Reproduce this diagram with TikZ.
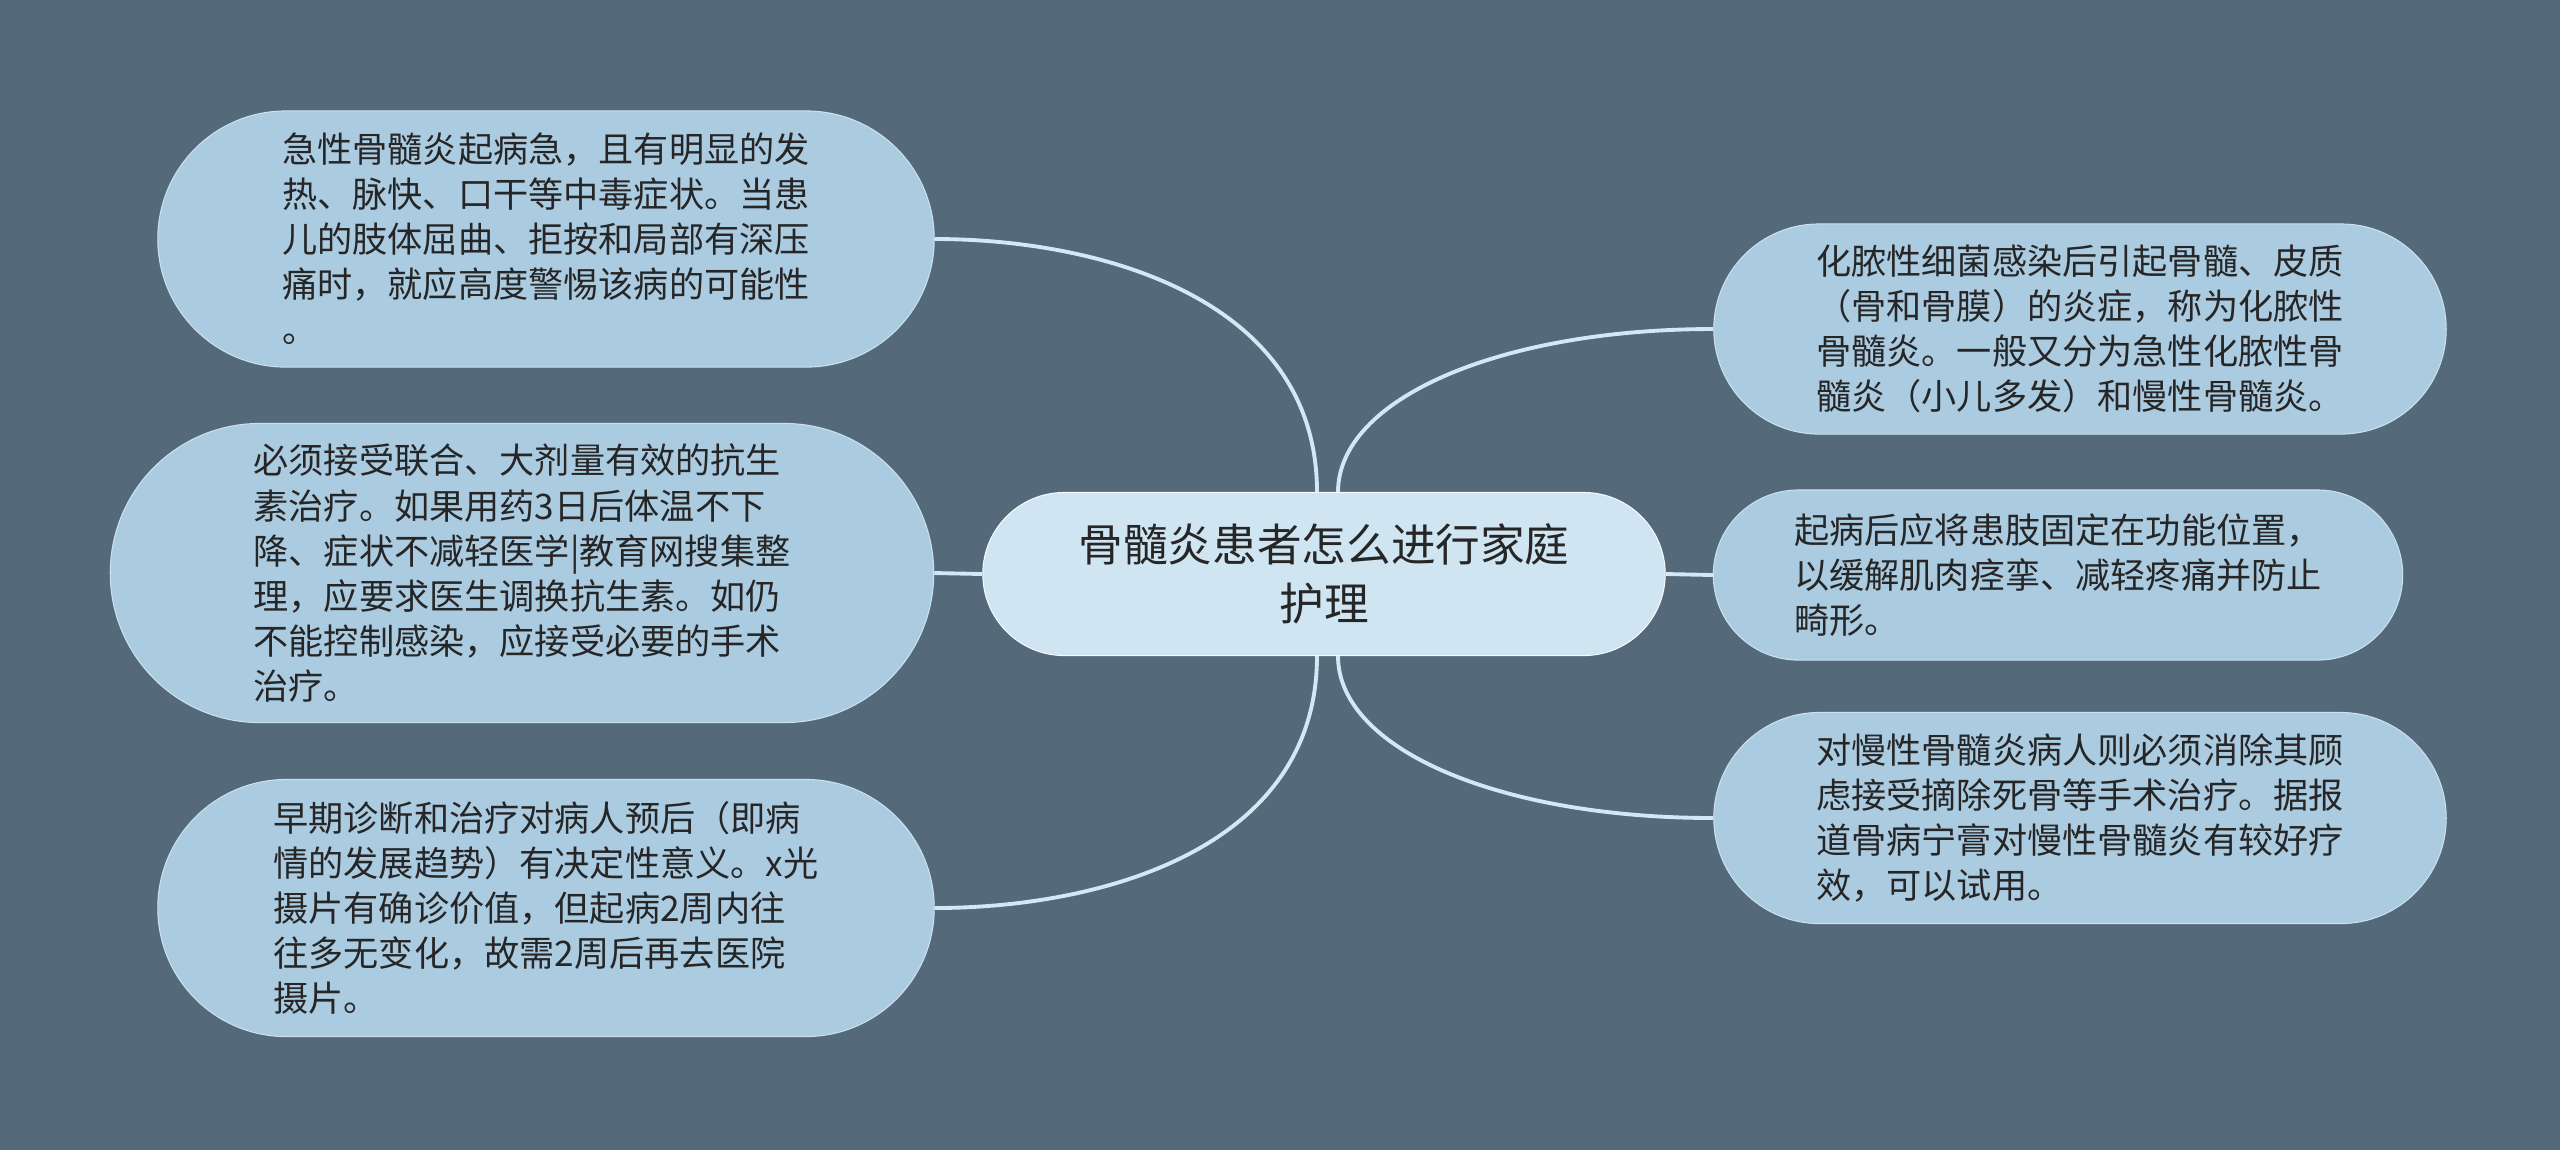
\documentclass[tikz,border=0pt]{standalone}
\usepackage{fontspec}
\setmainfont{Noto Sans CJK SC}
\usepackage{xcolor}
\usepackage{tikz}

\definecolor{bgslate}{HTML}{546A7A}
\definecolor{noteblue}{HTML}{ABCBE1}
\definecolor{topicblue}{HTML}{CFE5F1}
\definecolor{linkblue}{HTML}{D2E9F5}
\definecolor{inkgray}{HTML}{262626}

\begin{document}
\begin{tikzpicture}[
    x=0.01cm, y=-0.01cm,
    notebox/.style={draw=noteblue!60!white, line width=0.3pt, fill=noteblue, rounded corners=#1, align=left, text=inkgray, inner sep=0pt, font=\fontsize{10.0}{12.8}\selectfont},
    topicbox/.style={draw=white!80!topicblue, line width=0.3pt, fill=topicblue, rounded corners=0.815cm, align=center, text=inkgray, inner sep=0pt, minimum width=6.82cm, minimum height=1.63cm, font=\fontsize{12.7}{16.7}\selectfont},
    link/.style={draw=linkblue, line width=1.1pt}
]
    % Canvas
    \fill[bgslate] (0,0) rectangle (2560,1150);

    % Topic
    \node[topicbox] (topic) at (1324,574) {骨髓炎患者怎么进行家庭\\护理};

    % Left notes
    \node[notebox=1.28cm, minimum width=7.76cm, minimum height=2.56cm] (sign) at (546,239) {急性骨髓炎起病急，且有明显的发\\热、脉快、口干等中毒症状。当患\\儿的肢体屈曲、拒按和局部有深压\\痛时，就应高度警惕该病的可能性\\。};
    \node[notebox=1.495cm, minimum width=8.23cm, minimum height=2.99cm] (drug) at (522,573) {必须接受联合、大剂量有效的抗生\\素治疗。如果用药3日后体温不下\\降、症状不减轻医学|教育网搜集整\\理，应要求医生调换抗生素。如仍\\不能控制感染，应接受必要的手术\\治疗。};
    \node[notebox=1.285cm, minimum width=7.76cm, minimum height=2.57cm] (xray) at (546,908) {早期诊断和治疗对病人预后（即病\\情的发展趋势）有决定性意义。x光\\摄片有确诊价值，但起病2周内往\\往多无变化，故需2周后再去医院\\摄片。};

    % Right notes
    \node[notebox=1.05cm, minimum width=7.32cm, minimum height=2.10cm] (define) at (2080,329) {化脓性细菌感染后引起骨髓、皮质\\（骨和骨膜）的炎症，称为化脓性\\骨髓炎。一般又分为急性化脓性骨\\髓炎（小儿多发）和慢性骨髓炎。};
    \node[notebox=0.85cm, minimum width=6.89cm, minimum height=1.70cm] (limb) at (2058,575) {起病后应将患肢固定在功能位置，\\以缓解肌肉痉挛、减轻疼痛并防止\\畸形。};
    \node[notebox=1.055cm, minimum width=7.32cm, minimum height=2.11cm] (chronic) at (2080,818) {对慢性骨髓炎病人则必须消除其顾\\虑接受摘除死骨等手术治疗。据报\\道骨病宁膏对慢性骨髓炎有较好疗\\效，可以试用。};

    % Links
    \draw[link] ([xshift=-0.07cm]topic.north) .. controls +(0,-193) and +(166,0) .. (sign.east);
    \draw[link] (topic.west) -- (drug.east);
    \draw[link] ([xshift=-0.07cm]topic.south) .. controls +(0,193) and +(166,0) .. (xray.east);
    \draw[link] ([xshift=0.14cm]topic.north) .. controls +(0,-93) and +(-214,0) .. (define.west);
    \draw[link] (topic.east) -- (limb.west);
    \draw[link] ([xshift=0.14cm]topic.south) .. controls +(0,93) and +(-214,0) .. (chronic.west);
\end{tikzpicture}
\end{document}
